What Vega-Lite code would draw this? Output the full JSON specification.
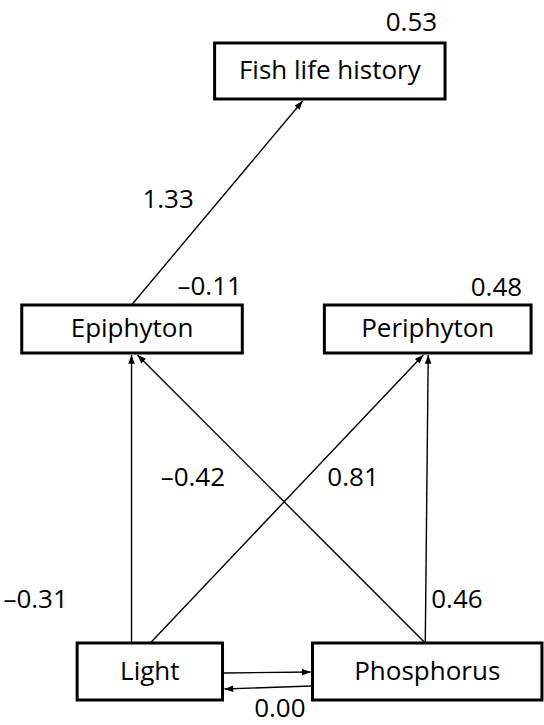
{
  "$schema": "https://vega.github.io/schema/vega-lite/v6.json",
  "width": 544,
  "height": 725,
  "autosize": {"type": "fit", "contains": "padding"},
  "padding": 0,
  "background": "white",
  "config": {"view": {"stroke": null}},
  "datasets": {
    "nodes": [
      {"name": "Fish life history", "x1": 217, "x2": 450, "y1": 43, "y2": 99},
      {"name": "Epiphyton", "x1": 22, "x2": 245, "y1": 305, "y2": 353},
      {"name": "Periphyton", "x1": 328, "x2": 537, "y1": 305, "y2": 353},
      {"name": "Light", "x1": 78, "x2": 225, "y1": 643, "y2": 700},
      {"name": "Phosphorus", "x1": 316, "x2": 548, "y1": 643, "y2": 700}
    ],
    "edges": [
      {"from": "Epiphyton", "to": "Fish life history", "x1": 133, "y1": 305, "x2": 306, "y2": 101},
      {"from": "Light", "to": "Epiphyton", "x1": 133, "y1": 643, "x2": 133, "y2": 355},
      {"from": "Phosphorus", "to": "Epiphyton", "x1": 430, "y1": 643, "x2": 139, "y2": 355},
      {"from": "Light", "to": "Periphyton", "x1": 152, "y1": 643, "x2": 428, "y2": 355},
      {"from": "Phosphorus", "to": "Periphyton", "x1": 430, "y1": 643, "x2": 433, "y2": 355},
      {"from": "Light", "to": "Phosphorus", "x1": 226, "y1": 673, "x2": 314, "y2": 672},
      {"from": "Phosphorus", "to": "Light", "x1": 315, "y1": 686, "x2": 227, "y2": 689}
    ],
    "labels": [
      {"text": "0.53", "x": 416, "y": 23},
      {"text": "–0.11", "x": 212, "y": 287},
      {"text": "0.48", "x": 502, "y": 288},
      {"text": "1.33", "x": 170, "y": 200},
      {"text": "–0.42", "x": 195, "y": 478},
      {"text": "0.81", "x": 357, "y": 478},
      {"text": "–0.31", "x": 36, "y": 600},
      {"text": "0.46", "x": 462, "y": 600},
      {"text": "0.00", "x": 283, "y": 709}
    ]
  },
  "layer": [
    {
      "data": {"name": "edges"},
      "mark": {"type": "rule", "color": "black", "strokeWidth": 1.4},
      "encoding": {
        "x": {"field": "x1", "type": "quantitative", "scale": {"domain": [0, 544], "nice": false, "zero": false}, "axis": null},
        "y": {"field": "y1", "type": "quantitative", "scale": {"domain": [0, 725], "nice": false, "zero": false, "reverse": true}, "axis": null},
        "x2": {"field": "x2"},
        "y2": {"field": "y2"}
      }
    },
    {
      "data": {"name": "nodes"},
      "mark": {"type": "rect", "fill": "white", "stroke": "black", "strokeWidth": 3},
      "encoding": {
        "x": {"field": "x1", "type": "quantitative", "scale": {"domain": [0, 544], "nice": false, "zero": false}, "axis": null},
        "y": {"field": "y1", "type": "quantitative", "scale": {"domain": [0, 725], "nice": false, "zero": false, "reverse": true}, "axis": null},
        "x2": {"field": "x2"},
        "y2": {"field": "y2"}
      }
    },
    {
      "data": {"name": "edges"},
      "transform": [
        {"calculate": "atan2(datum.x2 - datum.x1, datum.y1 - datum.y2) * 180 / PI", "as": "heading"}
      ],
      "mark": {"type": "point", "shape": "M0,0L-0.38,1L0.38,1Z", "filled": true, "color": "black", "size": 300, "opacity": 1, "strokeWidth": 0},
      "encoding": {
        "x": {"field": "x2", "type": "quantitative", "scale": {"domain": [0, 544], "nice": false, "zero": false}, "axis": null},
        "y": {"field": "y2", "type": "quantitative", "scale": {"domain": [0, 725], "nice": false, "zero": false, "reverse": true}, "axis": null},
        "angle": {"field": "heading", "type": "quantitative", "scale": null}
      }
    },
    {
      "data": {"name": "nodes"},
      "transform": [
        {"calculate": "(datum.x1 + datum.x2) / 2", "as": "cx"},
        {"calculate": "(datum.y1 + datum.y2) / 2", "as": "cy"}
      ],
      "mark": {"type": "text", "font": "Open Sans", "fontSize": 26, "color": "black", "align": "center", "baseline": "middle"},
      "encoding": {
        "x": {"field": "cx", "type": "quantitative", "scale": {"domain": [0, 544], "nice": false, "zero": false}, "axis": null},
        "y": {"field": "cy", "type": "quantitative", "scale": {"domain": [0, 725], "nice": false, "zero": false, "reverse": true}, "axis": null},
        "text": {"field": "name"}
      }
    },
    {
      "data": {"name": "labels"},
      "mark": {"type": "text", "font": "Open Sans", "fontSize": 26, "color": "black", "align": "center", "baseline": "middle"},
      "encoding": {
        "x": {"field": "x", "type": "quantitative", "scale": {"domain": [0, 544], "nice": false, "zero": false}, "axis": null},
        "y": {"field": "y", "type": "quantitative", "scale": {"domain": [0, 725], "nice": false, "zero": false, "reverse": true}, "axis": null},
        "text": {"field": "text"}
      }
    }
  ]
}
